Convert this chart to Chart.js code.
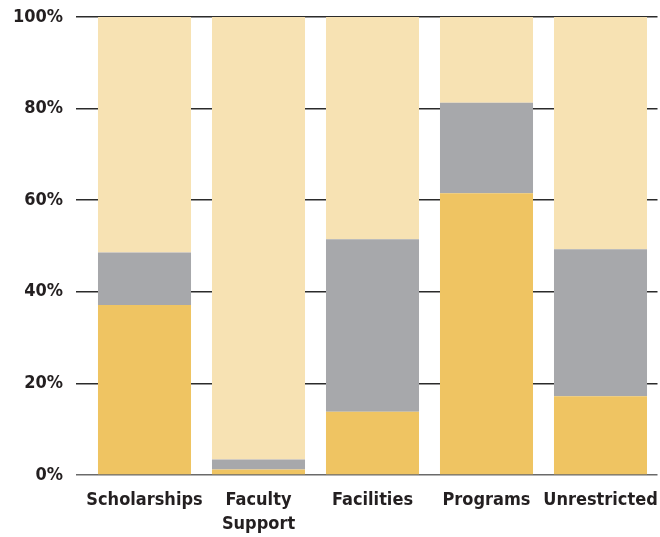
<!DOCTYPE html>
<html>
<head>
<meta charset="utf-8">
<script src="https://cdn.jsdelivr.net/npm/chart.js@4/dist/chart.umd.min.js"></script>
<style>
  html, body { margin: 0; padding: 0; background: #ffffff; }
  #wrap { width: 660px; height: 537px; position: relative; }
</style>
</head>
<body>
<div id="wrap"><canvas id="c" width="660" height="537"></canvas></div>
<script>
const categories = ["Scholarships", ["Faculty", "Support"], "Facilities", "Programs", "Unrestricted"];
const goldValues = [37.1, 1.2, 13.8, 61.5, 17.2];
const grayValues = [11.5, 2.2, 37.7, 19.8, 32.1];
const lightValues = [51.4, 96.6, 48.5, 18.7, 50.7];
const yTicks = [0, 20, 40, 60, 80, 100];

const FONT = "'DejaVu Sans Condensed', 'Liberation Sans Narrow', sans-serif";

new Chart(document.getElementById('c'), {
  type: 'bar',
  data: {
    labels: categories,
    datasets: [
      { data: goldValues, backgroundColor: '#EFC462' },
      { data: grayValues, backgroundColor: '#A7A8AB' },
      { data: lightValues, backgroundColor: '#F7E2B3' }
    ]
  },
  options: {
    responsive: false,
    animation: false,
    devicePixelRatio: 1,
    layout: { padding: { top: 17, right: 2.5, bottom: 0, left: 0 } },
    plugins: { legend: { display: false }, tooltip: { enabled: false } },
    datasets: { bar: { categoryPercentage: 1, barPercentage: 0.816, borderWidth: 0 } },
    scales: {
      x: {
        stacked: true,
        grid: { display: false, drawTicks: false },
        border: { display: false },
        ticks: {
          color: '#231f20',
          font: { family: FONT, size: 18, weight: 'bold', lineHeight: 1.33 },
          padding: 13,
          maxRotation: 0,
          autoSkip: false
        },
        afterFit: (s) => { s.height = 62; s.paddingLeft = 0; s.paddingRight = 0; }
      },
      y: {
        stacked: true,
        min: 0,
        max: 100,
        afterBuildTicks: (s) => { s.ticks = yTicks.map(v => ({ value: v })); },
        grid: {
          color: (ctx) => ctx.tick && ctx.tick.value === 0 ? '#6a6a6a' : '#2b2b2b',
          lineWidth: 1.5,
          drawTicks: true,
          tickLength: 11.5
        },
        border: { display: false },
        ticks: {
          color: '#231f20',
          font: { family: FONT, size: 18, weight: 'bold' },
          padding: 13,
          callback: (v) => v + '%'
        },
        afterFit: (s) => { s.width = 87.5; s.paddingTop = 0; s.paddingBottom = 0; }
      }
    }
  }
});
</script>
</body>
</html>
